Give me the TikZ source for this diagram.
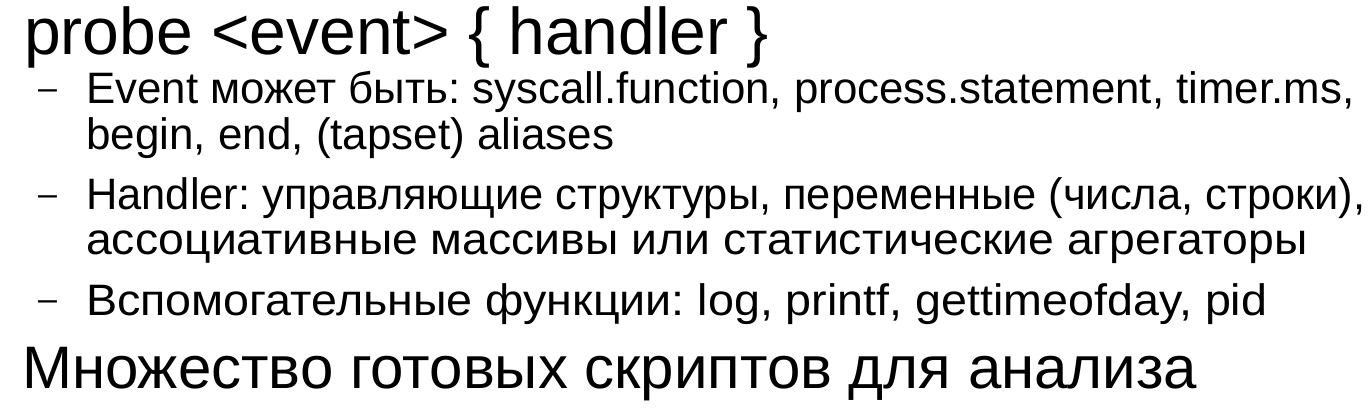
\documentclass[tikz,border=0pt]{standalone}
\usepackage{graphicx}
\usepackage{fontspec}
\setmainfont{Liberation Sans}
\frenchspacing
\newcommand{\fitw}[2]{\resizebox{#1}{\height}{#2}}
\begin{document}
\begin{tikzpicture}[x=1pt,y=1pt,
  title/.style={anchor=base west,inner sep=0pt,font=\fontsize{66}{66}\selectfont},
  title2/.style={anchor=base west,inner sep=0pt,font=\fontsize{60}{60}\selectfont},
  item/.style={anchor=base west,inner sep=0pt,font=\fontsize{44}{44}\selectfont\frenchspacing},
  bul/.style={anchor=base west,inner sep=0pt,font=\fontsize{34}{34}\selectfont}]
\useasboundingbox (0,0) rectangle (1371,-410);
\node[title] (t1) at (24,-54) {probe <event> \{ handler \}};
\node[bul] (d1) at (38,-99) {–};
\node[item] (l2) at (86,-103.5) {\fitw{1268pt}{Event может быть: syscall.function, process.statement, timer.ms,}};
\node[item] (l3) at (86,-149) {begin, end, (tapset) aliases};
\node[bul] (d2) at (38,-205) {–};
\node[item] (l4) at (86,-209.5) {\fitw{1279pt}{Handler: управляющие структуры, переменные (числа, строки),}};
\node[item] (l5) at (86,-254) {\fitw{1221pt}{ассоциативные массивы или статистические агрегаторы}};
\node[bul] (d3) at (38,-310.5) {–};
\node[item] (l6) at (86,-315) {\fitw{1181pt}{Вспомогательные функции: log, printf, gettimeofday, pid}};
\node[title2] (t2) at (22,-388) {Множество готовых скриптов для анализа};
\end{tikzpicture}
\end{document}
